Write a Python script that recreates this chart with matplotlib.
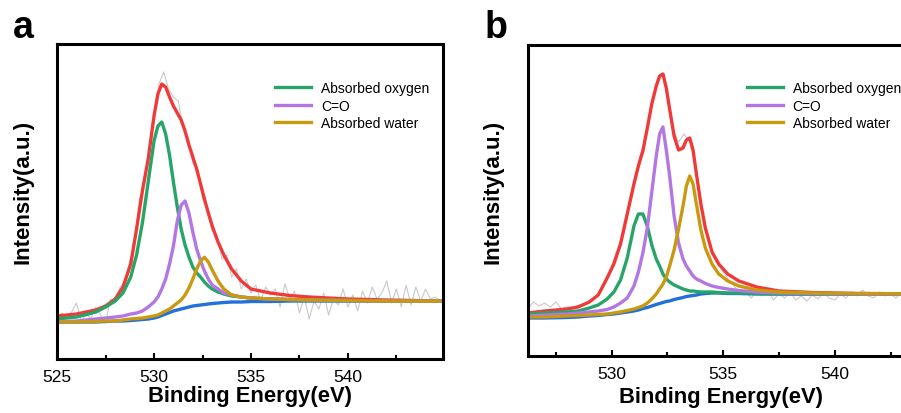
import numpy as np
import matplotlib
matplotlib.use('Agg')
import matplotlib.pyplot as plt
from matplotlib.ticker import MultipleLocator

plt.rcParams['font.family'] = ['Liberation Sans', 'DejaVu Sans']

# colores de las curvas
c_red = '#f03a3a'
c_green = '#27a568'
c_purple = '#b377e4'
c_gold = '#c9990f'
c_blue = '#2370d8'
c_raw = '#c9c9c9'

nombres = ['Absorbed oxygen', 'C=O', 'Absorbed water']

# ---------------- panel a ----------------
raw_a_x = np.arange(525.0, 544.76, 0.25)
raw_a = [40, 46, 42, 47, 56, 38, 45, 41, 52, 44,
         36, 60, 58, 72, 76, 98, 114, 160, 176, 212,
         238, 275, 287, 270, 262, 258, 232, 222, 196, 190,
         160, 150, 128, 124, 100, 104, 82, 90, 70, 80,
         66, 74, 58, 72, 64, 70, 52, 75, 60, 68,
         46, 62, 40, 58, 50, 66, 44, 60, 54, 70,
         52, 64, 48, 68, 56, 72, 60, 66, 78, 56,
         70, 52, 74, 54, 72, 58, 70, 60, 62, 58]

fit_a_x = [525.0, 526.0, 527.0, 527.5, 528.0, 528.4, 528.8, 529.1, 529.4, 529.7,
           530.0, 530.2, 530.4, 530.6, 530.8, 531.0, 531.2, 531.4, 531.6, 531.8,
           532.0, 532.2, 532.4, 532.6, 532.8, 533.0, 533.3, 533.6, 534.0, 534.5,
           535.0, 536.0, 537.0, 538.0, 540.0, 542.0, 544.9]
envolvente_a = [43, 45, 49, 53, 60, 72, 95, 130, 168, 200,
                243, 265, 275, 272, 262, 253, 246, 239, 228, 214,
                202, 190, 175, 160, 146, 133, 117, 104, 90, 78,
                70, 66, 63.5, 62, 60, 59, 58]
oxigeno_a = [40, 42, 47, 52, 58, 66, 82, 104, 136, 177,
             218, 233, 237, 225, 204, 177, 152, 130, 114, 102,
             92, 86, 82, 77, 73, 70, 67, 65, 63, 62,
             61, 60, 59.5, 59, 58.5, 58, 58]
co_a = [37, 38, 40, 41, 42, 43, 45, 46, 48, 52,
        57, 62, 70, 80, 95, 113, 138, 154, 158, 146,
        127, 110, 98, 88, 80, 74, 70, 66, 64, 62,
        61, 60, 59.5, 59, 58.5, 58, 58]
agua_a = [37, 37, 37.5, 38, 38, 39, 40, 40.5, 41, 42,
          43, 44, 46, 48, 50, 53, 56, 59, 64, 71,
          80, 90, 98, 101.7, 97, 89, 78, 70, 64, 62,
          61, 60, 59.5, 59, 58.5, 58, 58]
fondo_a = [37, 37, 37, 37.5, 38, 38, 38.5, 39, 39.5, 40,
           41, 42, 43.5, 45, 46.5, 48, 49, 50, 51, 52,
           53, 53.5, 54, 54.5, 55, 55.5, 56, 56.5, 57, 57,
           57.5, 57.5, 58, 58, 58, 58, 58]

# ---------------- panel b ----------------
raw_b_x = np.arange(526.25, 545.01, 0.25)
raw_b = [48, 54, 50, 53, 49, 54, 47, 49, 48, 51,
         52, 55, 58, 66, 75, 90, 106, 122, 150, 174,
         198, 218, 248, 268, 282, 262, 228, 214, 222, 214,
         192, 154, 124, 102, 92, 84, 76, 70, 62, 66,
         58, 64, 60, 66, 56, 62, 58, 64, 56, 60,
         55, 61, 57, 63, 58, 56, 62, 58, 64, 60,
         66, 60, 58, 64, 60, 62, 58, 64, 60, 62,
         60, 63, 61, 62, 61, 62]

fit_b_x = [526.25, 527.0, 528.0, 528.5, 529.0, 529.4, 529.8, 530.1, 530.4, 530.7,
           531.0, 531.2, 531.4, 531.6, 531.8, 532.0, 532.15, 532.3, 532.45, 532.6,
           532.8, 533.0, 533.2, 533.35, 533.5, 533.65, 533.8, 534.0, 534.2, 534.5,
           534.8, 535.2, 535.7, 536.5, 537.5, 539.0, 541.0, 545.0]
envolvente_b = [43, 45, 47, 49, 54, 61, 78, 92, 112, 142,
                172, 190, 205, 228, 252, 270, 280, 282, 268, 247,
                220, 206, 208, 216, 218, 206, 182, 152, 128, 104,
                92, 82, 75, 69, 65, 63.5, 62.5, 62]
oxigeno_b = [42, 43, 44, 45, 48, 51, 57, 64, 76, 98,
             130, 142, 142, 130, 111, 97, 90, 82, 77, 74,
             71, 69, 67, 66, 65, 65, 64.5, 64, 64, 64,
             63.5, 63, 63, 62.5, 62, 62, 62, 62]
co_b = [40, 41, 42, 43, 44, 45, 46.5, 49, 53, 58,
        70, 84, 103, 128, 164, 200, 222, 229, 206, 180,
        140, 113, 97, 90, 85, 80, 77, 75, 72.5, 70,
        68.5, 67, 65.5, 64, 63, 62.5, 62, 62]
agua_b = [39, 39, 40, 40.5, 41, 41.5, 42, 43, 44, 45.5,
          47, 48.5, 50, 53, 57, 62, 67, 72, 79, 90,
          106, 127, 150, 170, 180, 172, 152, 126, 108, 92,
          82, 75, 70, 66, 64, 63, 62.5, 62]
fondo_b = [38, 38, 38.5, 39, 40, 40.5, 41.5, 42, 43, 44,
           45, 46, 47.5, 48.5, 50, 51.5, 52.5, 53.5, 54.5, 55,
           56.5, 57.5, 58.5, 59.5, 60, 60.5, 61, 62, 62.5, 63,
           63, 62.5, 62.5, 62, 62, 62, 62, 62]


def dibujar(ax, raw_x, raw, x, env, ox, co, agua, fondo, xlim, ylim, ancla):
    lw = 2.4
    ax.plot(raw_x, raw, color=c_raw, lw=0.8)
    ax.plot(x, env, color=c_red, lw=lw)
    ax.plot(x, fondo, color=c_blue, lw=lw)
    l1, = ax.plot(x, ox, color=c_green, lw=lw)
    l2, = ax.plot(x, co, color=c_purple, lw=lw)
    l3, = ax.plot(x, agua, color=c_gold, lw=lw)

    ax.set_xlim(*xlim)
    ax.set_ylim(*ylim)
    ax.set_yticks([])
    ax.xaxis.set_major_locator(MultipleLocator(5))
    ax.xaxis.set_minor_locator(MultipleLocator(2.5))
    ax.tick_params(axis='x', which='major', direction='in', length=4, width=1.5,
                   labelsize=12.5, pad=7)
    ax.tick_params(axis='x', which='minor', direction='in', length=3, width=1.5)
    for s in ax.spines.values():
        s.set_linewidth(2.2)

    ax.set_xlabel('Binding Energy(eV)', fontsize=15.8, fontweight='bold')
    ax.set_ylabel('Intensity(a.u.)', fontsize=16, fontweight='bold')
    ax.legend([l1, l2, l3], nombres, loc='upper left', bbox_to_anchor=ancla,
              frameon=False, fontsize=10, handlelength=2.6, handletextpad=0.7,
              labelspacing=0.25, borderpad=0, borderaxespad=0)


fig = plt.figure(figsize=(9.01, 4.14), dpi=100)
ax_a = fig.add_axes([0.0633, 0.1304, 0.4284, 0.7609])
ax_b = fig.add_axes([0.5857, 0.1377, 0.4287, 0.7512])

dibujar(ax_a, raw_a_x, raw_a, fit_a_x, envolvente_a, oxigeno_a, co_a, agua_a, fondo_a,
        (525, 544.9), (0, 315), (0.565, 0.882))
dibujar(ax_b, raw_b_x, raw_b, fit_b_x, envolvente_b, oxigeno_b, co_b, agua_b, fondo_b,
        (526.24, 543.55), (0, 311), (0.567, 0.884))

ax_a.yaxis.set_label_coords(-0.062, 0.532)
ax_b.yaxis.set_label_coords(-0.062, 0.532)
ax_a.xaxis.set_label_coords(0.5, -0.082)
ax_b.xaxis.set_label_coords(0.5, -0.095)

fig.text(13 / 901, 1 - 38 / 414, 'a', fontsize=27, fontweight='bold', va='baseline')
fig.text(485 / 901, 1 - 38 / 414, 'b', fontsize=27, fontweight='bold', va='baseline')

fig.savefig('out.png', dpi=100)
